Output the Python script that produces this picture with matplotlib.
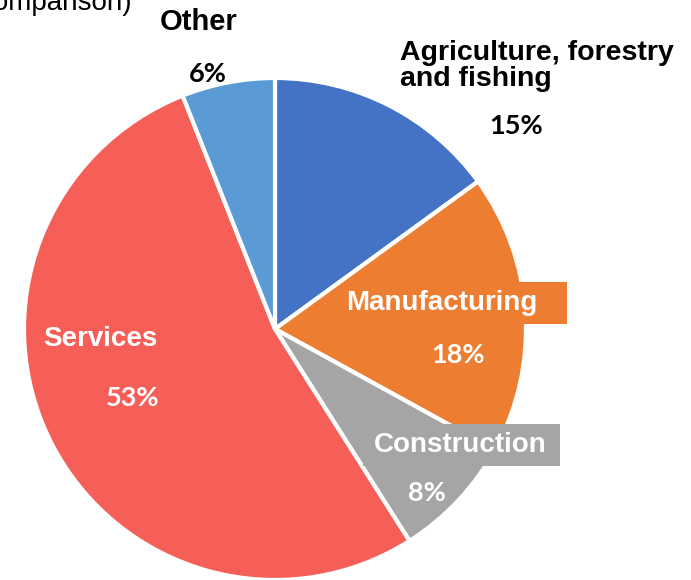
import matplotlib.pyplot as plt
from matplotlib.path import Path

sectors = ['Agriculture, forestry\nand fishing', 'Manufacturing', 'Construction', 'Services', 'Other']
shares = [15, 18, 8, 53, 6]
colors = ['#4472C4', '#ED7D31', '#A5A5A5', '#F55F58', '#5B9BD5']

plt.rcParams['font.family'] = ['Liberation Sans', 'DejaVu Sans']

W, H = 691, 580
fig = plt.figure(figsize=(W / 100, H / 100), dpi=100)
ax = fig.add_axes([0, 0, 1, 1])

# pie laid out in pixel units, y pointing up
cx, cy, r = 275, H - 329, 251
ax.pie(shares, colors=colors, startangle=90, counterclock=False,
       center=(cx, cy), radius=r,
       wedgeprops=dict(edgecolor='white', linewidth=3))
ax.set_xlim(0, W)
ax.set_ylim(0, H)
ax.set_aspect('equal')
ax.axis('off')


def label_box(left, right, pad_y):
    # rectangle with separate left/right/vertical padding (in em)
    def style(x0, y0, width, height, mutation_size):
        x1 = x0 - left * mutation_size
        x2 = x0 + width + right * mutation_size
        y1 = y0 - pad_y * mutation_size
        y2 = y0 + height + pad_y * mutation_size
        return Path([(x1, y1), (x2, y1), (x2, y2), (x1, y2), (x1, y1)], closed=True)
    return style


pct_family = ['Lato', 'DejaVu Sans']

# (name x, name y, name size, pct x, pct y, text colour, box, align) in pixels from the top-left
placement = [
    (400, 66, 20.5, 516, 126, 'black', None, 'left'),
    (442, 303, 20, 458, 355, 'white', label_box(0.0, 1.05, 0.3), 'center'),
    (460, 445, 20, 427, 493, 'white', label_box(0.4, 0.5, 0.3), 'center'),
    (100, 339, 20, 133, 398, 'white', None, 'center'),
    (199, 22, 21, 208, 74, 'black', None, 'center'),
]

for name, share, color, (nx, ny, ns, px, py, tc, box, ha) in zip(sectors, shares, colors, placement):
    bbox = None
    if box is not None:
        bbox = dict(boxstyle=box, facecolor=color, edgecolor='none')
    ax.text(nx, H - ny, name, color=tc, ha=ha, va='center', linespacing=1.05,
            fontsize=ns, fontweight='bold', bbox=bbox)
    ax.text(px, H - py, f'{share}%', color=tc, ha='center', va='center',
            fontsize=19.5, fontweight='bold', family=pct_family)

# tail of the chart title, running off the top-left corner
ax.text(133, H - 10, 'comparison)', fontsize=20, ha='right', va='baseline', color='black')

fig.savefig('out.png', dpi=100)
